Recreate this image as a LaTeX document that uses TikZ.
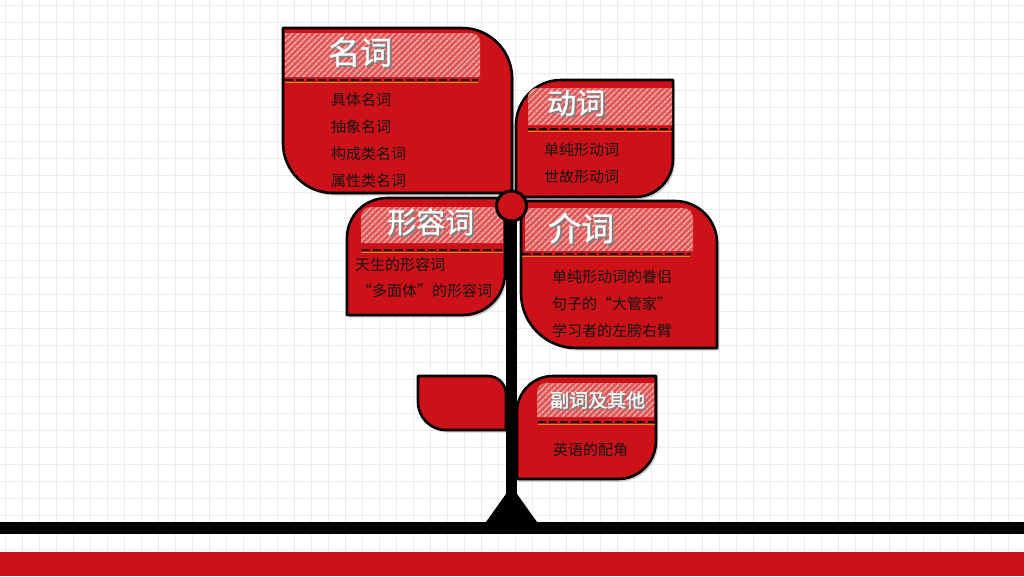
\documentclass[tikz,border=0pt]{standalone}
\usepackage{fontspec}
\newfontfamily\cjk{Noto Sans CJK SC}
\newfontfamily\cjkt[FakeBold=0.9]{Noto Sans CJK SC}
\usetikzlibrary{patterns.meta}
\definecolor{leafred}{RGB}{205,17,25}
\definecolor{bandred}{RGB}{222,88,90}
\definecolor{stripe}{RGB}{246,180,175}
\definecolor{dashorange}{RGB}{225,135,20}
\definecolor{gridgray}{RGB}{236,236,236}
\tikzset{
  leaf/.style={fill=leafred, draw=black, line width=2.6pt, line join=round},
  leafshadow/.style={fill=black, opacity=0.2},
  band/.style={fill=bandred, postaction={pattern={Lines[angle=45,distance=4pt,line width=1.5pt]}, pattern color=stripe}},
  dashline/.style={black, line width=2.6pt, dash pattern=on 8pt off 3pt},
  dashunder/.style={dashorange, line width=1.2pt},
  item/.style={font=\cjk\fontsize{15}{18}\selectfont, text=black!92, inner sep=0pt, anchor=west},
  ttl/.style={text=white, inner sep=0pt, anchor=west},
  ttlshadow/.style={text=black!50, inner sep=0pt, anchor=west},
}
\newcommand\mytitle[5]{%
  \node[ttlshadow, font={\cjkt\fontsize{#4}{#4}\selectfont}] (#1s) at (#2+1.8,#3+1.8) {#5};
  \node[ttl, font={\cjkt\fontsize{#4}{#4}\selectfont}] (#1) at (#2,#3) {#5};}
\begin{document}
\begin{tikzpicture}[x=1pt,y=-1pt]
\useasboundingbox (0,0) rectangle (1024,576);
\fill[white] (0,0) rectangle (1024,576);
% grid
\foreach \i in {0,...,60} {\draw[gridgray, line width=0.6pt] (\i*17+5,0) -- (\i*17+5,576);}
\foreach \j in {0,...,34} {\draw[gridgray, line width=0.6pt] (0,\j*17+5) -- (1024,\j*17+5);}
% bottom bars
\fill[black] (0,522) rectangle (1024,534);
\fill[leafred] (0,552) rectangle (1024,576);

% leaf shapes (shadows)
\begin{scope}[shift={(2,2.5)}]
\fill[leafshadow] (283,28) -- (462,28) .. controls (489.6,28) and (512,50.4) .. (512,78) -- (512,193) -- (333,193) .. controls (305.4,193) and (283,170.6) .. (283,143) -- cycle;
\fill[leafshadow] (561,80) -- (673,80) -- (673,159) .. controls (673,180) and (656,197) .. (635,197) -- (516,197) -- (516,125) .. controls (516,100.1) and (536.1,80) .. (561,80) -- cycle;
\fill[leafshadow] (387,198) -- (505,198) -- (505,273) .. controls (505,296.2) and (486.2,315) .. (463,315) -- (347,315) -- (347,238) .. controls (347,215.9) and (364.9,198) .. (387,198) -- cycle;
\fill[leafshadow] (521,201) -- (675,201) .. controls (698.2,201) and (717,219.8) .. (717,243) -- (717,348) -- (576,348) .. controls (545.6,348) and (521,323.4) .. (521,293) -- cycle;
\fill[leafshadow] (418,376) -- (488,376) .. controls (497.9,376) and (506,384.1) .. (506,394) -- (506,430) -- (446,430) .. controls (430.5,430) and (418,417.5) .. (418,402) -- cycle;
\fill[leafshadow] (553,376) -- (656,376) -- (656,441) .. controls (656,462) and (639,479) .. (618,479) -- (517,479) -- (517,412) .. controls (517,392.1) and (533.1,376) .. (553,376) -- cycle;
\end{scope}

% leaves
\path[leaf] (283,28) -- (462,28) .. controls (489.6,28) and (512,50.4) .. (512,78) -- (512,193) -- (333,193) .. controls (305.4,193) and (283,170.6) .. (283,143) -- cycle;
\path[leaf] (561,80) -- (673,80) -- (673,159) .. controls (673,180) and (656,197) .. (635,197) -- (516,197) -- (516,125) .. controls (516,100.1) and (536.1,80) .. (561,80) -- cycle;
\path[leaf] (387,198) -- (505,198) -- (505,273) .. controls (505,296.2) and (486.2,315) .. (463,315) -- (347,315) -- (347,238) .. controls (347,215.9) and (364.9,198) .. (387,198) -- cycle;
\path[leaf] (521,201) -- (675,201) .. controls (698.2,201) and (717,219.8) .. (717,243) -- (717,348) -- (576,348) .. controls (545.6,348) and (521,323.4) .. (521,293) -- cycle;
\path[leaf] (418,376) -- (488,376) .. controls (497.9,376) and (506,384.1) .. (506,394) -- (506,430) -- (446,430) .. controls (430.5,430) and (418,417.5) .. (418,402) -- cycle;
\path[leaf] (553,376) -- (656,376) -- (656,441) .. controls (656,462) and (639,479) .. (618,479) -- (517,479) -- (517,412) .. controls (517,392.1) and (533.1,376) .. (553,376) -- cycle;

% header bands
\path[band] (285,33) -- (471,33) .. controls (476,33) and (480,37) .. (480,42) -- (480,77) -- (285,77) -- cycle;
\path[band] (537,88) -- (672,88) -- (672,125) -- (528,125) -- (528,97) .. controls (528,92) and (532,88) .. (537,88) -- cycle;
\path[band] (371,207) -- (503,207) -- (503,243) -- (361,243) -- (361,217) .. controls (361,211.5) and (365.5,207) .. (371,207) -- cycle;
\path[band] (525,208) -- (683,208) .. controls (688.5,208) and (693,212.5) .. (693,218) -- (693,251) -- (525,251) -- cycle;
\path[band] (546,383) -- (654,383) -- (654,417) -- (537,417) -- (537,392) .. controls (537,387) and (541,383) .. (546,383) -- cycle;

% dashed separators
\draw[dashunder] (285,82.5) -- (478,82.5);
\draw[dashline] (285,80) -- (478,80);
\draw[dashunder] (528,131.5) -- (672,131.5);
\draw[dashline] (528,129) -- (672,129);
\draw[dashunder] (362,252.5) -- (503,252.5);
\draw[dashline] (362,250) -- (503,250);
\draw[dashunder] (522,256.5) -- (690,256.5);
\draw[dashline] (522,254) -- (690,254);
\draw[dashunder] (538,424.5) -- (655,424.5);
\draw[dashline] (538,422) -- (655,422);

% titles
\mytitle{t1}{328}{52}{32}{名词}
\mytitle{t2}{547}{103}{29}{动词}
\mytitle{t3}{387}{222}{29}{形容词}
\mytitle{t4}{548}{228}{33}{介词}
\mytitle{t6}{550}{400}{19}{副词及其他}

% items
\node[item] (a1) at (331,100) {具体名词};
\node[item] (a2) at (331,127) {抽象名词};
\node[item] (a3) at (331,154) {构成类名词};
\node[item] (a4) at (331,181) {属性类名词};
\node[item] (b1) at (544,150) {单纯形动词};
\node[item] (b2) at (544,177) {世故形动词};
\node[item] (c1) at (355,265) {天生的形容词};
\node[item] (c2) at (357,291) {“多面体”的形容词};
\node[item] (d1) at (552,277) {单纯形动词的眷侣};
\node[item] (d2) at (552,304) {句子的“大管家”};
\node[item] (d3) at (552,331) {学习者的左膀右臂};
\node[item] (e1) at (553,450) {英语的配角};

% stem, base, knob
\fill[black] (506,206) rectangle (517,522);
\fill[black] (506,494) -- (517,494) -- (537,522) -- (486,522) -- cycle;
\node[circle, fill=leafred, draw=black, line width=3pt, minimum size=30pt, inner sep=0pt] (knob) at (511.5,206) {};
\end{tikzpicture}
\end{document}
